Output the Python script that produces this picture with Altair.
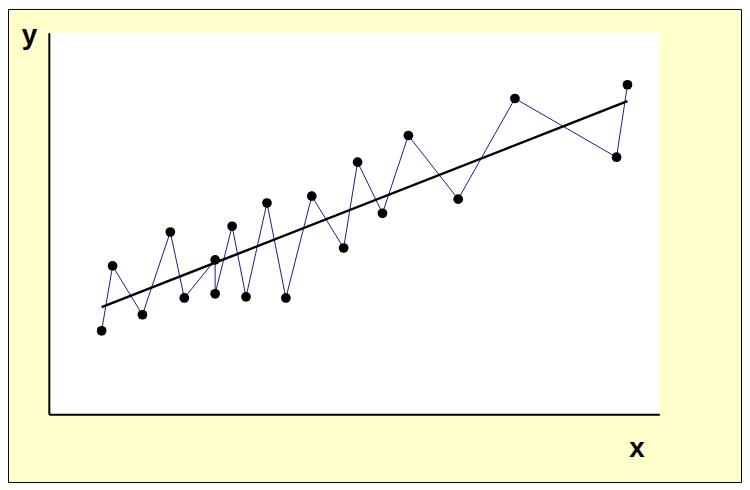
import altair as alt
import pandas as pd

# Data (arbitrary units, 0-100 on both axes)
x_vals = [8.65, 10.44, 15.33, 19.90, 22.19, 27.24, 27.24, 30.02, 32.30, 35.73,
          38.83, 43.07, 48.29, 50.57, 54.65, 58.89, 67.05, 76.35, 92.99, 94.78]
y_vals = [21.9, 38.9, 26.1, 47.8, 30.5, 40.5, 31.6, 49.3, 30.8, 55.4,
          30.5, 57.2, 43.6, 66.1, 52.7, 73.1, 56.4, 82.8, 67.4, 86.4]
x_title = "x"
y_title = "y"

df = pd.DataFrame({"x": x_vals, "y": y_vals, "i": list(range(len(x_vals)))})

xs = alt.Scale(domain=[0, 100], nice=False, zero=False)
ys = alt.Scale(domain=[0, 100], nice=False, zero=False)

x_axis = alt.Axis(title=x_title, labels=False, ticks=False, grid=False,
                  domainColor="black", domainWidth=2, zindex=2,
                  titleFontSize=28, titleFontWeight="bold", titleFont="Liberation Sans",
                  titleColor="black",
                  titleX=590, titleY=42, titleAlign="center", titleBaseline="alphabetic")
y_axis = alt.Axis(title=y_title, labels=False, ticks=False, grid=False,
                  domainColor="black", domainWidth=2, zindex=2,
                  titleFontSize=28, titleFontWeight="bold", titleFont="Liberation Sans",
                  titleColor="black", titleAngle=0,
                  titleX=-20, titleY=11, titleAlign="center", titleBaseline="alphabetic")

base = alt.Chart(df)

W, H = 613, 383
PL, PT, PR, PB = 41, 24, 83, 69

frame = base.mark_rect(fill="#FFFFCC", stroke="black", strokeWidth=1).encode(
    x=alt.value(-PL + 0.5), x2=alt.value(W + PR - 0.5),
    y=alt.value(-PT + 0.5), y2=alt.value(H + PB - 0.5)
).transform_filter("datum.i == 0")

plot_bg = base.mark_rect(fill="white").encode(
    x=alt.value(0), x2=alt.value(W), y=alt.value(0), y2=alt.value(H)
).transform_filter("datum.i == 0")

conn = base.mark_line(color="#1c1c80", strokeWidth=1).encode(
    x=alt.X("x:Q", scale=xs, axis=x_axis),
    y=alt.Y("y:Q", scale=ys, axis=y_axis),
    order="i:Q",
)

pts = base.mark_circle(color="black", opacity=1, size=95).encode(
    x=alt.X("x:Q", scale=xs),
    y=alt.Y("y:Q", scale=ys),
)

reg = base.transform_regression("x", "y").mark_line(color="black", strokeWidth=2.5).encode(
    x=alt.X("x:Q", scale=xs),
    y=alt.Y("y:Q", scale=ys),
)

chart = alt.layer(frame, plot_bg, conn, reg, pts).properties(
    width=W, height=H,
    background="white",
    padding={"left": PL, "top": PT, "right": PR, "bottom": PB},
    autosize=alt.AutoSizeParams(type="none"),
).configure_view(stroke=None, fill=None)

chart.save("out.html", embed_options={"renderer": "svg", "actions": False})
